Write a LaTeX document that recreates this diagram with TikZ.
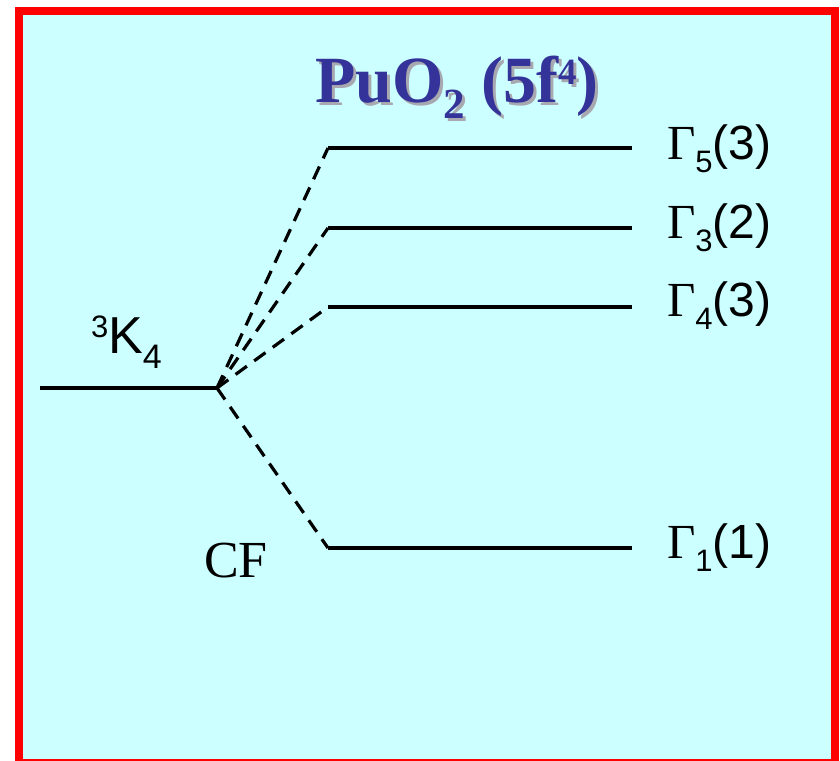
\documentclass[tikz,border=0pt]{standalone}
\usepackage{fontspec}
\setmainfont{Liberation Serif}
\newfontfamily\arialf{Liberation Sans}
\definecolor{bgcyan}{HTML}{CCFFFF}
\definecolor{titleblue}{HTML}{333399}
\definecolor{shadowgray}{HTML}{A8A8B0}
\tikzset{
  level/.style={line width=3.5pt, line cap=butt},
  baselevel/.style={line width=4.5pt, line cap=butt},
  split/.style={line width=3.2pt, dash pattern=on 14pt off 9pt},
  lbl/.style={anchor=base west, inner sep=0pt, outer sep=0pt},
}
\newcommand{\gamlab}[2]{{\fontsize{49}{49}\selectfont\textGamma}\raisebox{-13pt}{\arialf\fontsize{31}{31}\selectfont #1}{\arialf\fontsize{48}{48}\selectfont(#2)}}
\newcommand{\textGamma}{Γ}
\newcommand{\titletext}{\bfseries\fontsize{66}{66}\selectfont PuO\raisebox{-16pt}{\fontsize{43}{43}\selectfont 2} (5f\raisebox{18pt}{\fontsize{37}{37}\selectfont 4})}
\begin{document}
\begin{tikzpicture}[x=1pt,y=-1pt]
\useasboundingbox (0,0) rectangle (840,760);
\clip (0,0) rectangle (840,760);
\fill[white] (0,0) rectangle (840,760);
\fill[bgcyan] (19,11) rectangle (835,763);
\draw[red, line width=8pt] (19,11) rectangle (835,763);
% title
\node[lbl, text=shadowgray] (titleshadow) at (318,105) {\titletext};
\node[lbl, text=titleblue] (title) at (315,102) {\titletext};
% base level
\coordinate (L0) at (40,388);
\coordinate (K) at (217,388);
\draw[baselevel] (L0) -- (K);
\node[lbl] (Klab) at (91,353) {\arialf\raisebox{16pt}{\fontsize{31}{31}\selectfont 3}{\fontsize{52}{52}\selectfont K}\raisebox{-15pt}{\fontsize{34}{34}\selectfont 4}};
\node[lbl] (CF) at (204,577) {\fontsize{52}{52}\selectfont CF};
% split levels
\foreach \nm/\yy/\sub/\deg/\bl in {g5/148/5/3/159, g3/228/3/2/238, g4/307/4/3/316, g1/548/1/1/558}{
  \coordinate (\nm l) at (328,\yy);
  \coordinate (\nm r) at (632,\yy);
  \draw[split] (K) -- (\nm l);
  \draw[level] (\nm l) -- (\nm r);
  \node[lbl] (\nm lab) at (667,\bl) {\gamlab{\sub}{\deg}};
}
\end{tikzpicture}
\end{document}
